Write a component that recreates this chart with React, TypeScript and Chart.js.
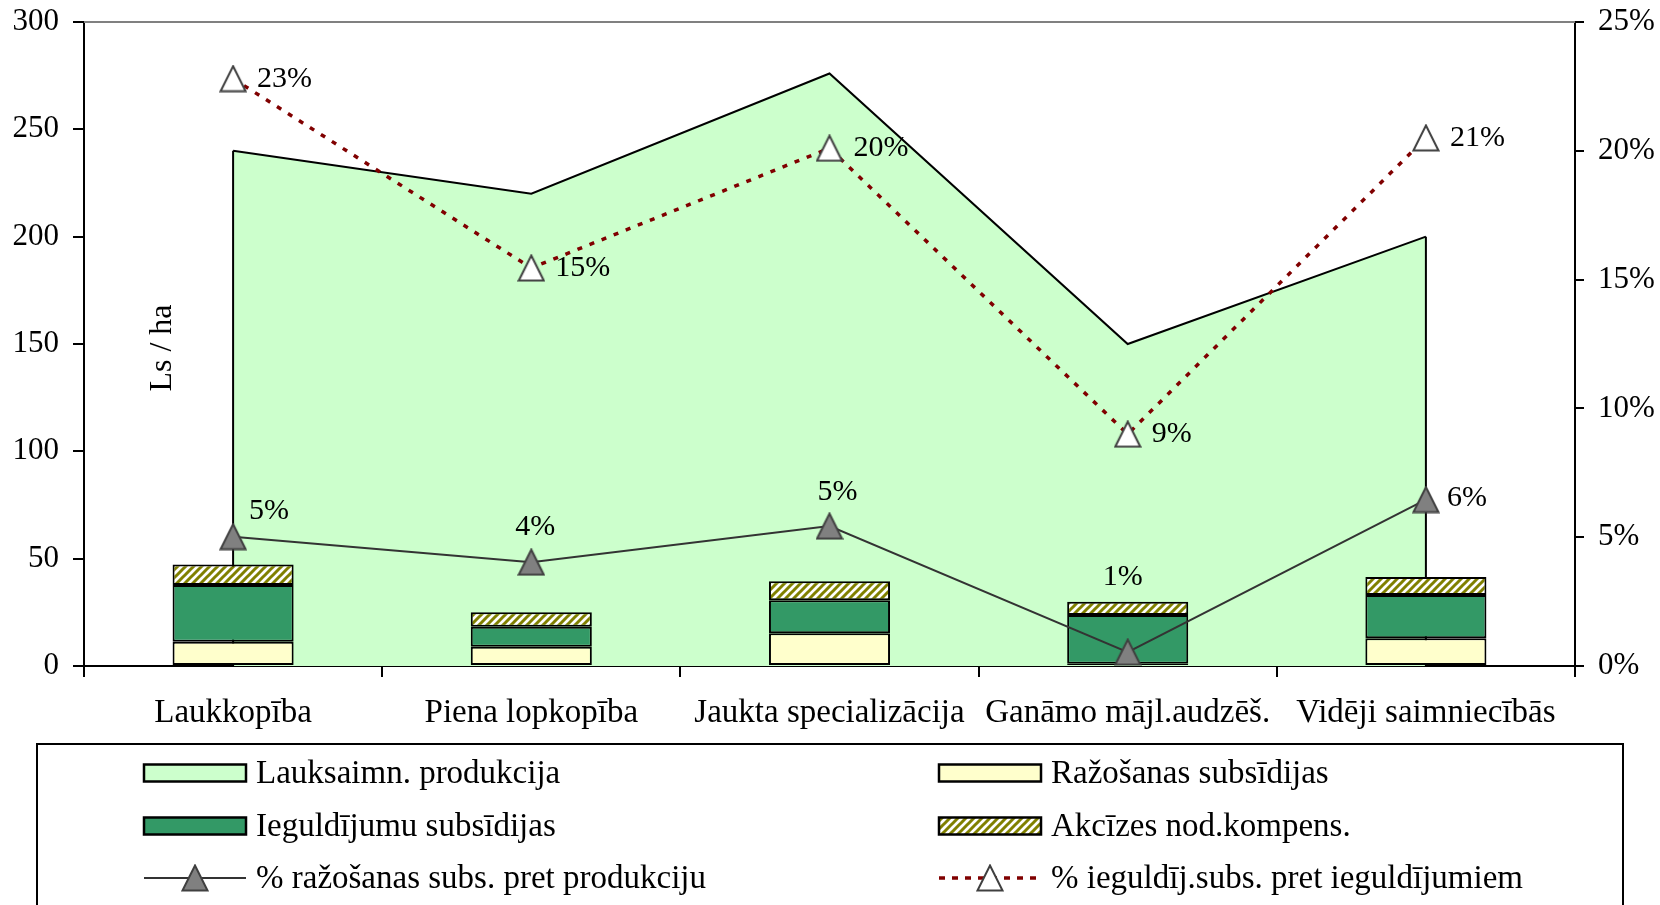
import React, { useEffect, useRef } from 'react';
import { Chart, registerables } from 'chart.js';

Chart.register(...registerables);

// ---------- data ----------
const categories = [
  'Laukkopība',
  'Piena lopkopība',
  'Jaukta specializācija',
  'Ganāmo mājl.audzēš.',
  'Vidēji saimniecībās',
];
const production = [240, 220, 276, 150, 200];
const productionSubsidies = [11.3, 9.0, 15.3, 1.0, 12.9];
const investmentSubsidies = [26.4, 9.3, 15.3, 22.8, 20.2];
const exciseCompensation = [9.6, 6.7, 8.9, 6.1, 8.4];
const pctProductionSubs = [5.02, 4.03, 5.43, 0.54, 6.46];
const pctInvestmentSubs = [22.8, 15.45, 20.1, 9.0, 20.5];

const leftAxisMax = 300;
const leftAxisStep = 50;
const rightAxisMax = 25;
const rightAxisStep = 5;

const seriesNames = [
  'Lauksaimn. produkcija',
  'Ražošanas subsīdijas',
  'Ieguldījumu subsīdijas',
  'Akcīzes nod.kompens.',
  '% ražošanas subs. pret produkciju',
  '% ieguldīj.subs. pret ieguldījumiem',
];
const yAxisTitle = 'Ls / ha';

// ---------- styles ----------
const FONT = "'Liberation Serif', 'Times New Roman', serif";
const COL_AREA = '#CCFFCC';
const COL_PROD = '#FFFFCC';
const COL_INV = '#339966';
const COL_HATCH = '#808000';
const COL_DOT = '#800000';
const COL_LINE = '#333333';
const DOT_DASH = [5, 8];
const LEGEND_DASH = [6, 7];
// label offsets (px) relative to markers
const prodLabelOffsets = [
  [36, -26],
  [4, -35],
  [8, -34],
  [-5, -75],
  [41, -1],
];
const invLabelOffset = [24, 0];

function makeHatch(ctx: CanvasRenderingContext2D) {
  const c = document.createElement('canvas');
  c.width = 8;
  c.height = 8;
  const g = c.getContext('2d')!;
  g.fillStyle = '#ffffff';
  g.fillRect(0, 0, 8, 8);
  g.strokeStyle = COL_HATCH;
  g.lineWidth = 3;
  g.beginPath();
  g.moveTo(-2, 10);
  g.lineTo(10, -2);
  g.moveTo(-6, 6);
  g.lineTo(6, -6);
  g.moveTo(2, 14);
  g.lineTo(14, 2);
  g.stroke();
  return ctx.createPattern(c, 'repeat')!;
}

function makeTriangle(fill: string, stroke: string) {
  const s = 28;
  const c = document.createElement('canvas');
  c.width = s;
  c.height = s;
  const g = c.getContext('2d')!;
  g.beginPath();
  g.moveTo(s / 2, 1.5);
  g.lineTo(s - 1.5, s - 1.5);
  g.lineTo(1.5, s - 1.5);
  g.closePath();
  g.fillStyle = fill;
  g.fill();
  g.lineWidth = 2;
  g.lineJoin = 'miter';
  g.strokeStyle = stroke;
  g.stroke();
  return c;
}

export default function App() {
  const canvasRef = useRef<HTMLCanvasElement | null>(null);

  useEffect(() => {
    const canvas = canvasRef.current!;
    const ctx0 = canvas.getContext('2d')!;
    const hatch = makeHatch(ctx0);
    const triGray = makeTriangle('#808080', '#404040');
    const triWhite = makeTriangle('#ffffff', '#404040');

    const decorPlugin = {
      id: 'decor',
      beforeDatasetsDraw(chart: any) {
        const { ctx, chartArea } = chart;
        ctx.save();
        ctx.strokeStyle = '#808080';
        ctx.lineWidth = 2;
        ctx.beginPath();
        ctx.moveTo(chartArea.left, chartArea.top);
        ctx.lineTo(chartArea.right, chartArea.top);
        ctx.stroke();
        ctx.restore();
      },
      afterDatasetDraw(chart: any, args: any) {
        if (args.index !== 0) return;
        const { ctx } = chart;
        const pts = args.meta.data;
        const y0 = chart.scales.y.getPixelForValue(0);
        ctx.save();
        ctx.strokeStyle = '#000';
        ctx.lineWidth = 2;
        ctx.beginPath();
        const first = pts[0];
        const last = pts[pts.length - 1];
        ctx.moveTo(first.x, first.y);
        ctx.lineTo(first.x, y0);
        ctx.moveTo(last.x, last.y);
        ctx.lineTo(last.x, y0);
        ctx.stroke();
        ctx.restore();
      },
      afterDatasetsDraw(chart: any) {
        const { ctx, chartArea } = chart;
        ctx.save();
        ctx.fillStyle = '#000';
        ctx.font = `30px ${FONT}`;
        ctx.textBaseline = 'middle';
        const m4 = chart.getDatasetMeta(4).data;
        m4.forEach((p: any, i: number) => {
          ctx.textAlign = 'center';
          ctx.fillText(
            Math.round(pctProductionSubs[i]) + '%',
            p.x + prodLabelOffsets[i][0],
            p.y + prodLabelOffsets[i][1]
          );
        });
        const m5 = chart.getDatasetMeta(5).data;
        m5.forEach((p: any, i: number) => {
          ctx.textAlign = 'left';
          ctx.fillText(
            Math.round(pctInvestmentSubs[i]) + '%',
            p.x + invLabelOffset[0],
            p.y + invLabelOffset[1]
          );
        });
        // y axis title inside plot
        ctx.font = `32px ${FONT}`;
        ctx.textAlign = 'center';
        ctx.translate(chartArea.left + 79, (chartArea.top + chartArea.bottom) / 2 + 4);
        ctx.rotate(-Math.PI / 2);
        ctx.fillText(yAxisTitle, 0, 0);
        ctx.restore();
      },
      afterDraw(chart: any) {
        const { ctx } = chart;
        const W = chart.width;
        ctx.save();
        // legend box
        const boxTop = chart.chartArea.bottom + 78;
        ctx.strokeStyle = '#000';
        ctx.lineWidth = 2;
        ctx.strokeRect(37, boxTop, W - 74, 300);
        const rowY = [boxTop + 29, boxTop + 82, boxTop + 134];
        const colX = [144, 939];
        const swW = 102;
        const swH = 17;
        ctx.font = `33px ${FONT}`;
        ctx.textBaseline = 'middle';
        ctx.textAlign = 'left';
        const rect = (x: number, y: number, fill: any) => {
          ctx.fillStyle = fill;
          ctx.fillRect(x, y - swH / 2, swW, swH);
          ctx.strokeStyle = '#000';
          ctx.lineWidth = 2.5;
          ctx.strokeRect(x, y - swH / 2, swW, swH);
        };
        const text = (s: string, x: number, y: number) => {
          ctx.fillStyle = '#000';
          ctx.fillText(s, x + swW + 10, y + 1);
        };
        // row 1
        rect(colX[0], rowY[0], COL_AREA);
        text(seriesNames[0], colX[0], rowY[0]);
        rect(colX[1], rowY[0], COL_PROD);
        text(seriesNames[1], colX[1], rowY[0]);
        // row 2
        rect(colX[0], rowY[1], COL_INV);
        text(seriesNames[2], colX[0], rowY[1]);
        rect(colX[1], rowY[1], hatch);
        text(seriesNames[3], colX[1], rowY[1]);
        // row 3 lines
        ctx.strokeStyle = COL_LINE;
        ctx.lineWidth = 2;
        ctx.beginPath();
        ctx.moveTo(colX[0], rowY[2]);
        ctx.lineTo(colX[0] + swW, rowY[2]);
        ctx.stroke();
        ctx.drawImage(triGray, colX[0] + swW / 2 - 14, rowY[2] - 14);
        text(seriesNames[4], colX[0], rowY[2]);
        ctx.strokeStyle = COL_DOT;
        ctx.lineWidth = 3.5;
        ctx.setLineDash(LEGEND_DASH);
        ctx.beginPath();
        ctx.moveTo(colX[1], rowY[2]);
        ctx.lineTo(colX[1] + swW, rowY[2]);
        ctx.stroke();
        ctx.setLineDash([]);
        ctx.drawImage(triWhite, colX[1] + swW / 2 - 14, rowY[2] - 14);
        text(seriesNames[5], colX[1], rowY[2]);
        ctx.restore();
      },
    };

    const noPad = (s: any) => {
      s.paddingTop = 0;
      s.paddingBottom = 0;
    };

    const chart = new Chart(canvas, {
      type: 'bar',
      data: {
        labels: categories,
        datasets: [
          {
            type: 'line',
            label: seriesNames[0],
            data: production,
            yAxisID: 'y',
            stack: 'area',
            fill: 'origin',
            backgroundColor: COL_AREA,
            borderColor: '#000',
            borderWidth: 2,
            pointRadius: 0,
            tension: 0,
            order: 3,
          } as any,
          {
            type: 'bar',
            label: seriesNames[1],
            data: productionSubsidies,
            yAxisID: 'y',
            stack: 'bars',
            backgroundColor: COL_PROD,
            borderColor: '#000',
            borderWidth: 2,
            borderSkipped: false,
            order: 2,
          },
          {
            type: 'bar',
            label: seriesNames[2],
            data: investmentSubsidies,
            yAxisID: 'y',
            stack: 'bars',
            backgroundColor: COL_INV,
            borderColor: '#000',
            borderWidth: 2,
            borderSkipped: false,
            order: 2,
          },
          {
            type: 'bar',
            label: seriesNames[3],
            data: exciseCompensation,
            yAxisID: 'y',
            stack: 'bars',
            backgroundColor: hatch,
            borderColor: '#000',
            borderWidth: 2,
            borderSkipped: false,
            order: 2,
          },
          {
            type: 'line',
            label: seriesNames[4],
            data: pctProductionSubs,
            yAxisID: 'y2',
            borderColor: COL_LINE,
            borderWidth: 2,
            pointStyle: triGray,
            pointRadius: 5,
            tension: 0,
            fill: false,
            order: 1,
          } as any,
          {
            type: 'line',
            label: seriesNames[5],
            data: pctInvestmentSubs,
            yAxisID: 'y2',
            borderColor: COL_DOT,
            borderWidth: 3.5,
            borderDash: DOT_DASH,
            pointStyle: triWhite,
            pointRadius: 5,
            tension: 0,
            fill: false,
            order: 0,
          } as any,
        ],
      },
      options: {
        responsive: false,
        animation: false,
        events: [],
        layout: { padding: { top: 22, bottom: 161, left: 0, right: 0 } },
        plugins: {
          legend: { display: false },
          tooltip: { enabled: false },
          title: { display: false },
        },
        datasets: {
          bar: { categoryPercentage: 1, barPercentage: 0.406 },
        },
        scales: {
          x: {
            stacked: true,
            offset: true,
            grid: {
              display: true,
              offset: true,
              drawOnChartArea: false,
              drawTicks: true,
              tickLength: 11,
              color: '#000',
              lineWidth: 2,
            },
            border: { display: true, color: '#000', width: 2 },
            ticks: {
              color: '#000',
              font: { family: FONT, size: 33 },
              padding: 17,
              autoSkip: false,
              maxRotation: 0,
            },
            afterFit: (s: any) => {
              s.height = 78;
            },
          },
          y: {
            position: 'left',
            stacked: true,
            min: 0,
            max: leftAxisMax,
            ticks: {
              stepSize: leftAxisStep,
              color: '#000',
              font: { family: FONT, size: 31 },
              padding: 14,
            },
            grid: {
              display: true,
              drawOnChartArea: false,
              drawTicks: true,
              tickLength: 11,
              color: '#000',
              lineWidth: 2,
            },
            border: { display: true, color: '#000', width: 2 },
            afterFit: (s: any) => {
              s.width = 84;
              noPad(s);
            },
          },
          y2: {
            position: 'right',
            min: 0,
            max: rightAxisMax,
            ticks: {
              stepSize: rightAxisStep,
              color: '#000',
              font: { family: FONT, size: 31 },
              padding: 14,
              callback: (v: any) => v + '%',
            },
            grid: {
              display: true,
              drawOnChartArea: false,
              drawTicks: true,
              tickLength: 9,
              color: '#000',
              lineWidth: 2,
            },
            border: { display: true, color: '#000', width: 2 },
            afterFit: (s: any) => {
              s.width = 85;
              noPad(s);
            },
          },
        },
      } as any,
      plugins: [decorPlugin],
    });

    return () => {
      chart.destroy();
    };
  }, []);

  return (
    <div style={{ position: 'fixed', left: 0, top: 0, width: 1660, height: 905, background: '#fff' }}>
      <canvas ref={canvasRef} width={1660} height={905} style={{ width: 1660, height: 905, display: 'block' }} />
    </div>
  );
}
